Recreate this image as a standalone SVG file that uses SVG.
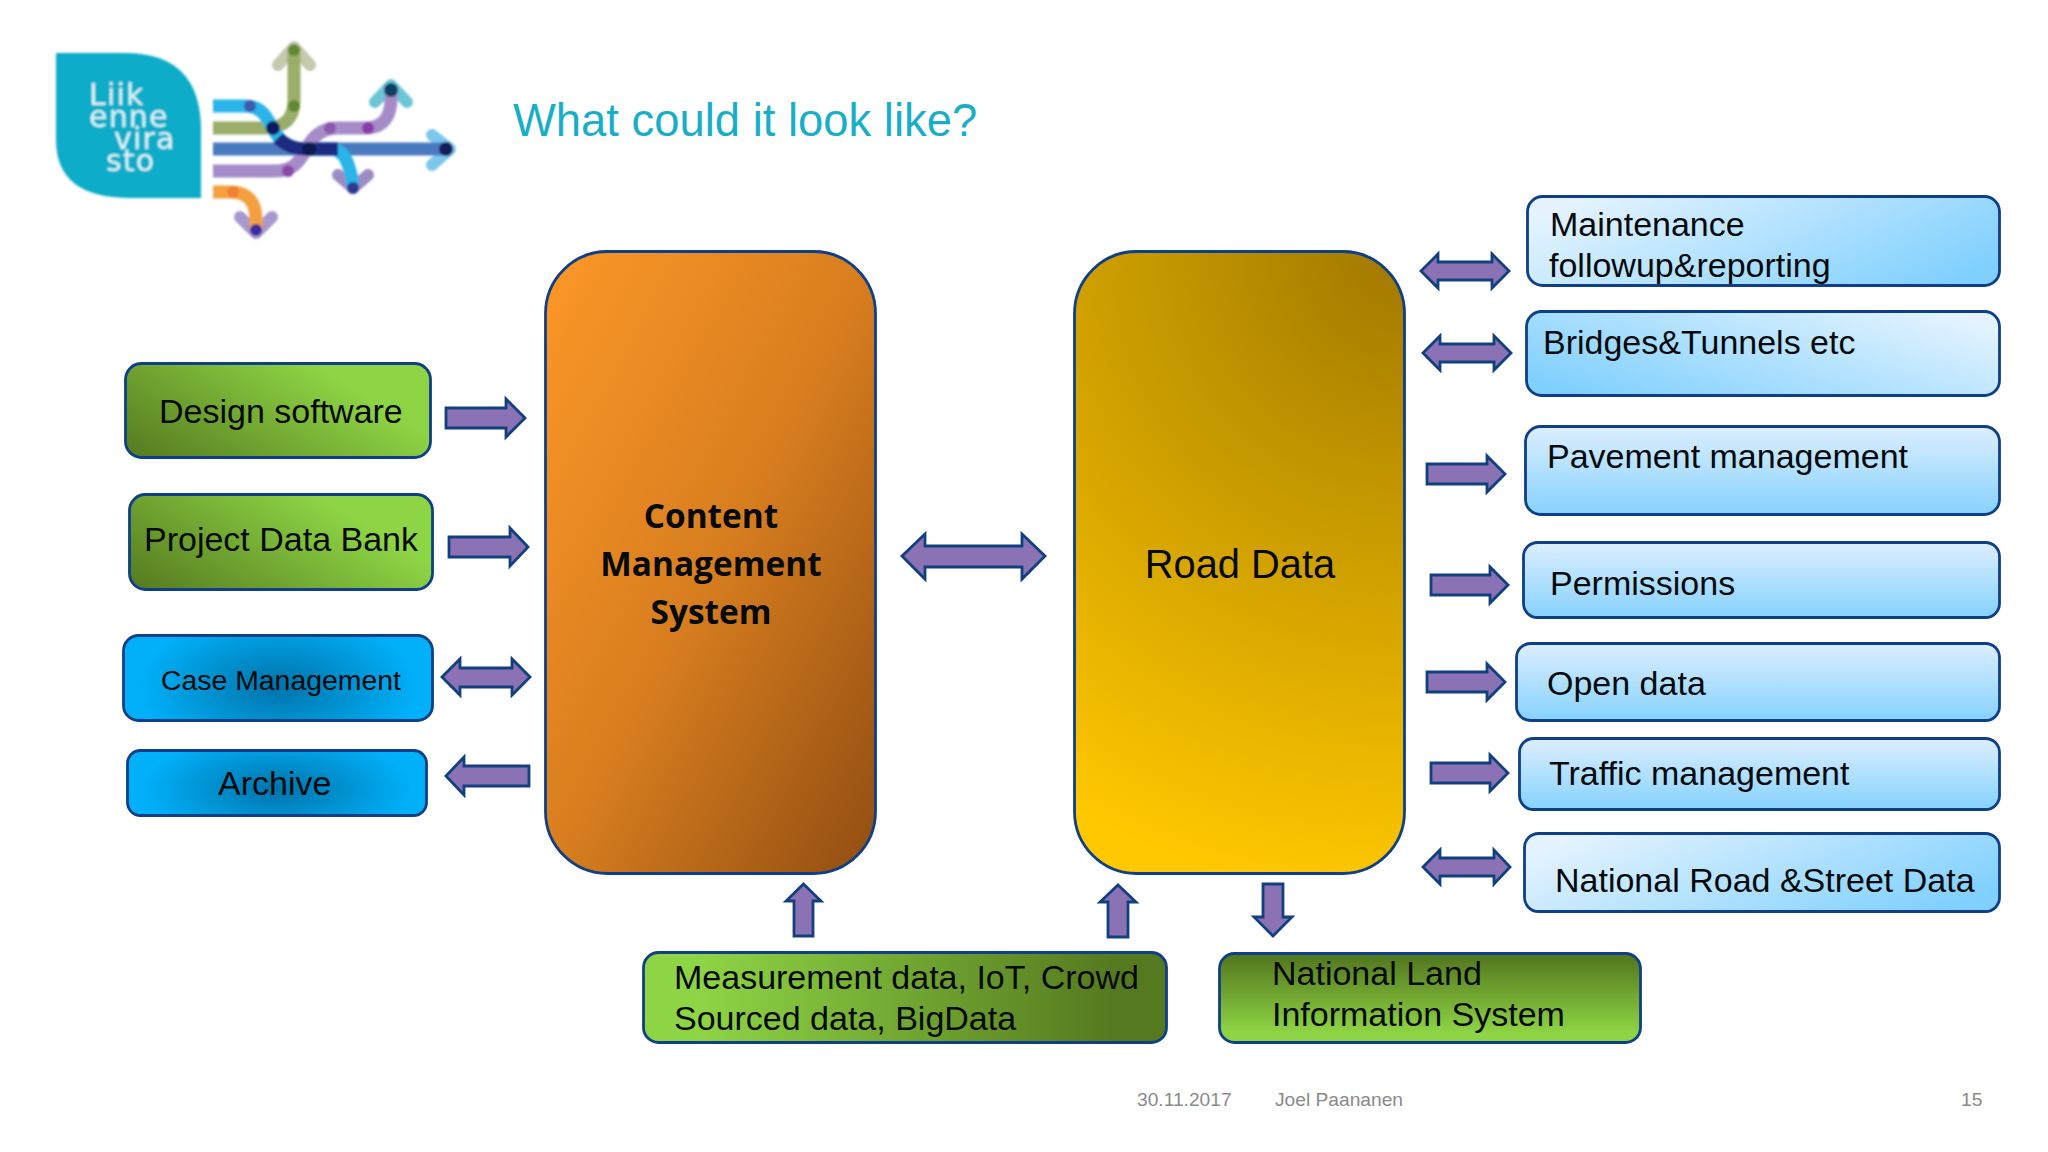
<svg xmlns="http://www.w3.org/2000/svg" width="2048" height="1152" viewBox="0 0 2048 1152">
<style>
.box{stroke:#0f3f86;stroke-width:2.8}
.arr{fill:#8a72b4;stroke:#12407f;stroke-width:2.8;stroke-linejoin:miter}
text{font-family:"Liberation Sans",Arial,sans-serif;fill:#060a0c}
.t{font-size:34px}
.big{font-family:"Open Sans","Liberation Sans",sans-serif;font-weight:700;font-size:33.400px}
.foot{font-size:19.200px;fill:#8a8a8a}
.ll{fill:none;stroke-width:13}
.ch{fill:none;stroke-width:12;stroke-linecap:round;stroke-linejoin:round}
</style>
<defs>
<linearGradient id="gDesign" x1="0" y1="1" x2="1" y2="0.5"><stop offset="0" stop-color="#55791f"/><stop offset="0.9" stop-color="#8ed545"/></linearGradient>
<linearGradient id="gMeas" x1="0" y1="0.5" x2="1" y2="0.5"><stop offset="0.1" stop-color="#8ed545"/><stop offset="0.9" stop-color="#55791f"/></linearGradient>
<linearGradient id="gLand" x1="0" y1="0" x2="0" y2="1"><stop offset="0.05" stop-color="#55791f"/><stop offset="0.9" stop-color="#8ed545"/></linearGradient>
<radialGradient id="gBlue" cx="0.5" cy="0.6" r="1" gradientTransform="translate(.5 .6) scale(.5 .95) translate(-.5 -.6)"><stop offset="0" stop-color="#0073aa"/><stop offset="0.9" stop-color="#00b0f8"/></radialGradient>
<linearGradient id="lbR" x1="0" y1="0.3" x2="1" y2="0.7"><stop offset="0" stop-color="#e4f3ff"/><stop offset="1" stop-color="#80d0fe"/></linearGradient>
<linearGradient id="lbL" x1="0" y1="0.8" x2="1" y2="0.2"><stop offset="0" stop-color="#80d0fe"/><stop offset="1" stop-color="#e4f3ff"/></linearGradient>
<linearGradient id="lbD" x1="0" y1="0" x2="0" y2="1"><stop offset="0" stop-color="#dceeff"/><stop offset="1" stop-color="#86d2fe"/></linearGradient>
<linearGradient id="gCms" x1="0.05" y1="0.05" x2="0.95" y2="0.95"><stop offset="0" stop-color="#f99527"/><stop offset="0.5" stop-color="#d87e1f"/><stop offset="1" stop-color="#985213"/></linearGradient>
<radialGradient id="gRoad" gradientUnits="userSpaceOnUse" cx="1405" cy="251" r="650"><stop offset="0" stop-color="#a07800"/><stop offset="1" stop-color="#ffc800"/></radialGradient>
<filter id="soft" x="-5%" y="-5%" width="110%" height="110%"><feGaussianBlur stdDeviation="1"/></filter>
</defs>
<rect width="2048" height="1152" fill="#fff"/>
<g id="logo" filter="url(#soft)">
<path d="M56 53H125Q201 53 201 130V198H130Q56 198 56 140Z" fill="#10acc8"/>
<text font-size="30" letter-spacing="1.200" style="font-family:'DejaVu Sans',sans-serif;fill:#dff6fb"><tspan x="89" y="105">Liik</tspan><tspan x="89" y="127">enne</tspan><tspan x="114" y="149">vira</tspan><tspan x="106" y="171">sto</tspan></text>
<path class="ch" stroke="#c5c9ae" d="M278 65L294 47L310 65"/>
<path class="ch" stroke="#6cc6d6" d="M375 102L391 85L407 102"/>
<path class="ch" stroke="#7cc8ec" d="M432 135L450 149L432 165"/>
<path class="ch" stroke="#9c8cc4" d="M338 175L353 188L368 175"/>
<path class="ch" stroke="#a898cc" d="M240 217L256 233L272 217"/>
<path class="ll" stroke="#4a7ac0" d="M213 149H450"/>
<path class="ll" stroke="#9aae6a" d="M213 128H265C285 128 294 118 294 100V48"/>
<path class="ll" stroke="#2ab4e8" d="M213 106H245C265 106 268 122 275 132C282 144 292 149 305 149H330C345 149 350 165 353 186"/>
<path class="ll" stroke="#a58cc8" d="M213 171H275C295 171 300 160 307 148C313 136 322 128 338 128H365C385 128 391 115 391 98V86"/>
<path class="ll" stroke="#f4a040" d="M213 192H230C248 192 256 202 256 220V230"/>
<path class="ll" stroke="#1c2a80" d="M278 138C286 146 295 149 305 149H338"/>
<circle cx="250" cy="106" r="6" fill="#3a5ab0"/><circle cx="294" cy="106" r="6" fill="#5f8a30"/><circle cx="294" cy="50" r="6" fill="#5f8a30"/>
<circle cx="273" cy="128" r="7" fill="#0c1f60"/><circle cx="309" cy="149" r="7" fill="#0a1a50"/><circle cx="288" cy="171" r="6" fill="#8a4aa8"/>
<circle cx="330" cy="128" r="6" fill="#8a5ab0"/><circle cx="368" cy="128" r="6" fill="#8a3aa8"/><circle cx="391" cy="90" r="7" fill="#0a4060"/>
<circle cx="446" cy="149" r="7" fill="#141e5c"/><circle cx="353" cy="188" r="6" fill="#2a3a90"/><circle cx="256" cy="230" r="6" fill="#3a2aa0"/><circle cx="233" cy="192" r="6" fill="#f08030"/>
</g>
<text id="title" x="513" y="136" font-size="45.400" style="fill:#19aec8">What could it look like?</text>
<g id="connectors">
<path class="arr" d="M446 408H506V399L525 418L506 437V428H446Z"/>
<path class="arr" d="M449 537H510V528L528 547L510 566V557H449Z"/>
<path class="arr" d="M442 677L460 659V668H512V659L530 677L512 695V687H460V695Z"/>
<path class="arr" d="M446 776L464 757V766H529V786H464V795Z"/>
<path class="arr" d="M902 556L925 534V546H1022V534L1045 556L1022 579V567H925V579Z"/>
<path class="arr" d="M1421 271L1438 254V262H1492V254L1509 271L1492 288V280H1438V288Z"/>
<path class="arr" d="M1423 353L1440 336V344H1494V336L1511 353L1494 370V362H1440V370Z"/>
<path class="arr" d="M1427 464H1487V456L1505 474L1487 492V484H1427Z"/>
<path class="arr" d="M1431 575H1490V567L1508 585L1490 603V595H1431Z"/>
<path class="arr" d="M1427 672H1487V664L1505 682L1487 700V692H1427Z"/>
<path class="arr" d="M1431 763H1490V755L1508 773L1490 791V783H1431Z"/>
<path class="arr" d="M1423 867L1440 850V858H1494V850L1510 867L1494 884V876H1440V884Z"/>
<path class="arr" d="M803.500 884L821 901H813V936H794V901H786Z"/>
<path class="arr" d="M1118 885L1136 902H1128V937H1108V902H1100Z"/>
<path class="arr" d="M1263 884H1283V917H1292L1273 936L1254 917H1263Z"/>
</g>
<g id="design-software"><rect class="box" x="125.500" y="363.500" width="305" height="94" rx="16" fill="url(#gDesign)"/><text class="t" x="159" y="423">Design software</text></g>
<g id="project-data-bank"><rect class="box" x="129.500" y="494.500" width="303" height="95" rx="16" fill="url(#gDesign)"/><text class="t" x="144" y="551">Project Data Bank</text></g>
<g id="case-management"><rect class="box" x="123.500" y="635.500" width="309" height="85" rx="15" fill="url(#gBlue)"/><text x="161" y="690" font-size="28.400">Case Management</text></g>
<g id="archive"><rect class="box" x="127.500" y="750.500" width="299" height="65" rx="13" fill="url(#gBlue)"/><text class="t" x="218" y="795">Archive</text></g>
<g id="cms"><rect class="box" x="545.500" y="251.500" width="330" height="622" rx="62" fill="url(#gCms)"/>
<text class="big" x="711" y="528" text-anchor="middle">Content</text><text class="big" x="711" y="576" text-anchor="middle">Management</text><text class="big" x="711" y="624" text-anchor="middle">System</text></g>
<g id="road-data"><rect class="box" x="1074.500" y="251.500" width="330" height="622" rx="62" fill="url(#gRoad)"/><text x="1240" y="578" font-size="39.800" text-anchor="middle">Road Data</text></g>
<g id="maintenance"><rect class="box" x="1527.500" y="196.500" width="472" height="89" rx="15" fill="url(#lbR)"/><text class="t" x="1550" y="236">Maintenance</text><text class="t" x="1549" y="277">followup&amp;reporting</text></g>
<g id="bridges"><rect class="box" x="1526.500" y="311.500" width="473" height="84" rx="15" fill="url(#lbL)"/><text class="t" x="1543" y="354">Bridges&amp;Tunnels etc</text></g>
<g id="pavement"><rect class="box" x="1525.500" y="426.500" width="474" height="88" rx="15" fill="url(#lbD)"/><text class="t" x="1547" y="468">Pavement management</text></g>
<g id="permissions"><rect class="box" x="1523.500" y="542.500" width="476" height="75" rx="14" fill="url(#lbD)"/><text class="t" x="1550" y="595">Permissions</text></g>
<g id="open-data"><rect class="box" x="1516.500" y="643.500" width="483" height="77" rx="14" fill="url(#lbD)"/><text class="t" x="1547" y="695">Open data</text></g>
<g id="traffic"><rect class="box" x="1519.500" y="738.500" width="480" height="71" rx="14" fill="url(#lbD)"/><text class="t" x="1549" y="785">Traffic management</text></g>
<g id="national-road"><rect class="box" x="1524.500" y="833.500" width="475" height="78" rx="14" fill="url(#lbR)"/><text class="t" x="1555" y="892">National Road &amp;Street Data</text></g>
<g id="measurement"><rect class="box" x="643.500" y="952.500" width="523" height="90" rx="15" fill="url(#gMeas)"/><text class="t" x="674" y="989">Measurement data, IoT, Crowd</text><text class="t" x="674" y="1030">Sourced data, BigData</text></g>
<g id="national-land"><rect class="box" x="1219.500" y="953.500" width="421" height="89" rx="15" fill="url(#gLand)"/><text class="t" x="1272" y="985">National Land</text><text class="t" x="1272" y="1026">Information System</text></g>
<g id="footer"><text class="foot" x="1137" y="1106">30.11.2017</text><text class="foot" x="1275" y="1106">Joel Paananen</text><text class="foot" x="1961" y="1106">15</text></g>
</svg>
